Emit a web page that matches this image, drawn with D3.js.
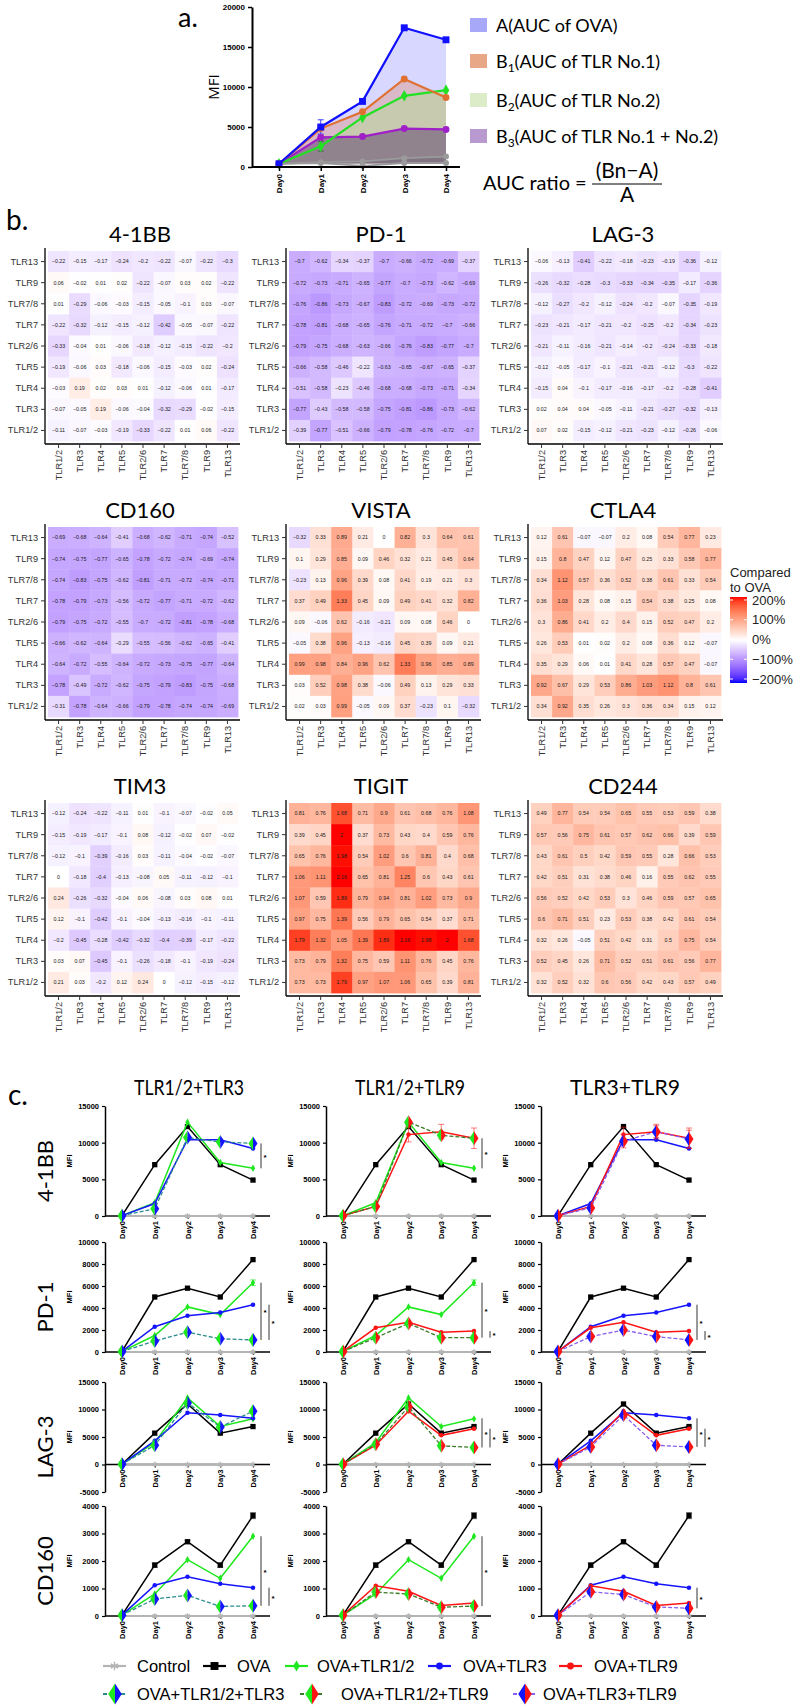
<!DOCTYPE html>
<html><head><meta charset="utf-8">
<script src="https://cdn.jsdelivr.net/npm/d3@7/dist/d3.min.js"></script>
<style>body{margin:0;background:#fff;}svg{display:block;}</style>
</head><body>
<svg id="chart" width="800" height="1705" xmlns="http://www.w3.org/2000/svg"></svg>
<script>
// ================= DATA =================
// Panel a
const aDays=["Day0","Day1","Day2","Day3","Day4"];
const aOVA=[400,5000,8200,17400,15900];
const aTLR1=[400,4800,6900,11000,8700];
const aTLR2=[400,2600,6200,8900,9600];
const aTLR12=[400,3700,3800,4800,4700];
const aCtrlA=[400,600,700,1100,1300];
const aCtrlB=[400,500,150,500,500];
const aTicks=[0,5000,10000,15000,20000];
const aLegendMain=["A","B","B","B"];
const aLegendSub=["","1","2","3"];
const aLegendRest=["(AUC of OVA)","(AUC of TLR No.1)","(AUC of TLR No.2)","(AUC of TLR No.1 + No.2)"];

// Panel b (rows listed top to bottom, columns left to right)
const hmRows=["TLR13","TLR9","TLR7/8","TLR7","TLR2/6","TLR5","TLR4","TLR3","TLR1/2"];
const hmCols=["TLR1/2","TLR3","TLR4","TLR5","TLR2/6","TLR7","TLR7/8","TLR9","TLR13"];
const hmNames=["4-1BB","PD-1","LAG-3","CD160","VISTA","CTLA4","TIM3","TIGIT","CD244"];
const hm41BB=[
[-0.22,-0.15,-0.17,-0.24,-0.2,-0.22,-0.07,-0.22,-0.3],
[0.06,-0.02,0.01,0.02,-0.22,-0.07,0.03,0.02,-0.22],
[0.01,-0.29,-0.06,-0.03,-0.15,-0.05,-0.1,0.03,-0.07],
[-0.22,-0.32,-0.12,-0.15,-0.12,-0.42,-0.05,-0.07,-0.22],
[-0.33,-0.04,0.01,-0.06,-0.18,-0.12,-0.15,-0.22,-0.2],
[-0.19,-0.06,0.03,-0.18,-0.06,-0.15,-0.03,0.02,-0.24],
[-0.03,0.19,0.02,0.03,0.01,-0.12,-0.06,0.01,-0.17],
[-0.07,-0.05,0.19,-0.06,-0.04,-0.32,-0.29,-0.02,-0.15],
[-0.11,-0.07,-0.03,-0.19,-0.33,-0.22,0.01,0.06,-0.22]];
const hmPD1=[
[-0.7,-0.62,-0.34,-0.37,-0.7,-0.66,-0.72,-0.69,-0.37],
[-0.72,-0.73,-0.71,-0.65,-0.77,-0.7,-0.73,-0.62,-0.69],
[-0.76,-0.86,-0.73,-0.67,-0.83,-0.72,-0.69,-0.73,-0.72],
[-0.78,-0.81,-0.68,-0.65,-0.76,-0.71,-0.72,-0.7,-0.66],
[-0.79,-0.75,-0.68,-0.63,-0.66,-0.76,-0.83,-0.77,-0.7],
[-0.66,-0.58,-0.46,-0.22,-0.63,-0.65,-0.67,-0.65,-0.37],
[-0.51,-0.58,-0.23,-0.46,-0.68,-0.68,-0.73,-0.71,-0.34],
[-0.77,-0.43,-0.58,-0.58,-0.75,-0.81,-0.86,-0.73,-0.62],
[-0.39,-0.77,-0.51,-0.66,-0.79,-0.78,-0.76,-0.72,-0.7]];
const hmLAG3=[
[-0.06,-0.13,-0.41,-0.22,-0.18,-0.23,-0.19,-0.36,-0.12],
[-0.26,-0.32,-0.28,-0.3,-0.33,-0.34,-0.35,-0.17,-0.36],
[-0.12,-0.27,-0.2,-0.12,-0.24,-0.2,-0.07,-0.35,-0.19],
[-0.23,-0.21,-0.17,-0.21,-0.2,-0.25,-0.2,-0.34,-0.23],
[-0.21,-0.11,-0.16,-0.21,-0.14,-0.2,-0.24,-0.33,-0.18],
[-0.12,-0.05,-0.17,-0.1,-0.21,-0.21,-0.12,-0.3,-0.22],
[-0.15,0.04,-0.1,-0.17,-0.16,-0.17,-0.2,-0.28,-0.41],
[0.02,0.04,0.04,-0.05,-0.11,-0.21,-0.27,-0.32,-0.13],
[0.07,0.02,-0.15,-0.12,-0.21,-0.23,-0.12,-0.26,-0.06]];
const hmCD160=[
[-0.69,-0.68,-0.64,-0.41,-0.68,-0.62,-0.71,-0.74,-0.52],
[-0.74,-0.75,-0.77,-0.65,-0.78,-0.72,-0.74,-0.69,-0.74],
[-0.74,-0.83,-0.75,-0.62,-0.81,-0.71,-0.72,-0.74,-0.71],
[-0.78,-0.79,-0.73,-0.56,-0.72,-0.77,-0.71,-0.72,-0.62],
[-0.79,-0.75,-0.72,-0.55,-0.7,-0.72,-0.81,-0.78,-0.68],
[-0.66,-0.62,-0.64,-0.29,-0.55,-0.56,-0.62,-0.65,-0.41],
[-0.64,-0.72,-0.55,-0.64,-0.72,-0.73,-0.75,-0.77,-0.64],
[-0.78,-0.49,-0.72,-0.62,-0.75,-0.79,-0.83,-0.75,-0.68],
[-0.31,-0.78,-0.64,-0.66,-0.79,-0.78,-0.74,-0.74,-0.69]];
const hmVISTA=[
[-0.32,0.33,0.89,0.21,0,0.82,0.3,0.64,0.61],
[0.1,0.29,0.85,0.09,0.46,0.32,0.21,0.45,0.64],
[-0.23,0.13,0.96,0.39,0.08,0.41,0.19,0.21,0.3],
[0.37,0.49,1.33,0.45,0.09,0.49,0.41,0.32,0.82],
[0.09,-0.06,0.62,-0.16,-0.21,0.09,0.08,0.46,0],
[-0.05,0.38,0.96,-0.13,-0.16,0.45,0.39,0.09,0.21],
[0.99,0.98,0.84,0.96,0.62,1.33,0.96,0.85,0.89],
[0.03,0.52,0.98,0.38,-0.06,0.49,0.13,0.29,0.33],
[0.02,0.03,0.99,-0.05,0.09,0.37,-0.23,0.1,-0.32]];
const hmCTLA4=[
[0.12,0.61,-0.07,-0.07,0.2,0.08,0.54,0.77,0.23],
[0.15,0.8,0.47,0.12,0.47,0.25,0.33,0.58,0.77],
[0.34,1.12,0.57,0.36,0.52,0.38,0.61,0.33,0.54],
[0.36,1.03,0.28,0.08,0.15,0.54,0.38,0.25,0.08],
[0.3,0.86,0.41,0.2,0.4,0.15,0.52,0.47,0.2],
[0.26,0.53,0.01,0.02,0.2,0.08,0.36,0.12,-0.07],
[0.35,0.29,0.06,0.01,0.41,0.28,0.57,0.47,-0.07],
[0.92,0.67,0.29,0.53,0.86,1.03,1.12,0.8,0.61],
[0.34,0.92,0.35,0.26,0.3,0.36,0.34,0.15,0.12]];
const hmTIM3=[
[-0.12,-0.24,-0.22,-0.11,0.01,-0.1,-0.07,-0.02,0.05],
[-0.15,-0.19,-0.17,-0.1,0.08,-0.12,-0.02,0.07,-0.02],
[-0.12,-0.1,-0.39,-0.16,0.03,-0.11,-0.04,-0.02,-0.07],
[0,-0.18,-0.4,-0.13,-0.08,0.05,-0.11,-0.12,-0.1],
[0.24,-0.26,-0.32,-0.04,0.06,-0.08,0.03,0.08,0.01],
[0.12,-0.1,-0.42,-0.1,-0.04,-0.13,-0.16,-0.1,-0.11],
[-0.2,-0.45,-0.28,-0.42,-0.32,-0.4,-0.39,-0.17,-0.22],
[0.03,0.07,-0.45,-0.1,-0.26,-0.18,-0.1,-0.19,-0.24],
[0.21,0.03,-0.2,0.12,0.24,0,-0.12,-0.15,-0.12]];
const hmTIGIT=[
[0.81,0.76,1.68,0.71,0.9,0.61,0.68,0.76,1.08],
[0.39,0.45,2,0.37,0.73,0.43,0.4,0.59,0.76],
[0.65,0.76,1.98,0.54,1.02,0.6,0.81,0.4,0.68],
[1.06,1.11,2.16,0.65,0.81,1.25,0.6,0.43,0.61],
[1.07,0.59,1.89,0.79,0.94,0.81,1.02,0.73,0.9],
[0.97,0.75,1.39,0.56,0.79,0.65,0.54,0.37,0.71],
[1.79,1.32,1.05,1.39,1.89,2.16,1.98,2,1.68],
[0.73,0.79,1.32,0.75,0.59,1.11,0.76,0.45,0.76],
[0.73,0.73,1.79,0.97,1.07,1.06,0.65,0.39,0.81]];
const hmCD244=[
[0.49,0.77,0.54,0.54,0.65,0.55,0.53,0.59,0.38],
[0.57,0.56,0.75,0.61,0.57,0.62,0.66,0.39,0.59],
[0.43,0.61,0.5,0.42,0.59,0.55,0.28,0.66,0.53],
[0.42,0.51,0.31,0.38,0.46,0.16,0.55,0.62,0.55],
[0.56,0.52,0.42,0.53,0.3,0.46,0.59,0.57,0.65],
[0.6,0.71,0.51,0.23,0.53,0.38,0.42,0.61,0.54],
[0.32,0.26,-0.05,0.51,0.42,0.31,0.5,0.75,0.54],
[0.52,0.45,0.26,0.71,0.52,0.51,0.61,0.56,0.77],
[0.32,0.52,0.32,0.6,0.56,0.42,0.43,0.57,0.49]];
const cbTicks=[2,1,0,-1,-2];
const cbLabels=["200%","100%","0%","\u2212100%","\u2212200%"];

// Panel c
const cCols=["TLR1/2+TLR3","TLR1/2+TLR9","TLR3+TLR9"];
const cRows=["4-1BB","PD-1","LAG-3","CD160"];
const kCtrl=[0,0,0,0,0];
const k41BB_OVA=[50,7000,12200,7000,4900];
const k41BB_T12=[50,1800,12800,7300,6500];
const k41BB_T3=[50,1700,10400,10400,9200];
const k41BB_T9=[50,1300,11100,11500,10600];
const k41BB_C123=[50,1000,10700,10100,9900];
const k41BB_C129=[50,1300,12800,11000,10600];
const k41BB_C39=[50,1100,10200,11500,10500];
const kPD1_OVA=[50,5000,5800,5000,8400];
const kPD1_T12=[50,1500,4100,3400,6300];
const kPD1_T3=[50,2300,3300,3600,4300];
const kPD1_T9=[50,2200,2700,1800,1900];
const kPD1_C123=[50,1000,1800,1200,1100];
const kPD1_C129=[50,1300,2600,1300,1300];
const kPD1_C39=[50,1400,2000,1400,1100];
const kLAG3_OVA=[50,5700,11000,5700,6900];
const kLAG3_T12=[50,4000,12100,6900,8300];
const kLAG3_T3=[50,4300,9400,9000,8400];
const kLAG3_T9=[50,3500,9700,5300,6500];
const kLAG3_C123=[50,3500,11200,6800,9700];
const kLAG3_C129=[50,3700,10500,3400,3100];
const kLAG3_C39=[50,3200,9000,3500,3200];
const kCD160_OVA=[30,1850,2700,1850,3650];
const kCD160_T12=[30,800,2050,1370,2900];
const kCD160_T3=[30,1120,1430,1170,1030];
const kCD160_T9=[30,1100,900,380,470];
const kCD160_C123=[30,620,750,350,370];
const kCD160_C129=[30,870,800,320,360];
const kCD160_C39=[30,880,780,330,280];
const e41BB_T9=[0,200,1000,1000,1400];
const e41BB_C39=[0,0,900,800,1200];
const ePD1_T12=[0,0,0,0,250];
const eCD160_OVA=[0,80,60,80,110];
const sig41BB=[[[9900,6500]],[[10600,6500]],[]];
const sigPD1=[[[6300,1100],[4300,1100]],[[6300,1300],[1900,1300]],[[4300,1100],[1900,1100]]];
const sigLAG3=[[],[[8400,3100],[6500,3100]],[[8400,3200],[6500,3200]]];
const sigCD160=[[[2900,370],[1030,370]],[[2900,360]],[[1030,280]]];
const cDomains=[[0,15000],[0,10000],[-5000,15000],[0,4000]];
const cTicks=[[0,5000,10000,15000],[0,2000,4000,6000,8000,10000],[-5000,0,5000,10000,15000],[0,1000,2000,3000,4000]];
const legNames1=["Control","OVA","OVA+TLR1/2","OVA+TLR3","OVA+TLR9"];
const legNames2=["OVA+TLR1/2+TLR3","OVA+TLR1/2+TLR9","OVA+TLR3+TLR9"];

// ================= DRAW =================
const svg=d3.select("#chart");
const FS="Lato, 'Open Sans', sans-serif";
const FA="'Liberation Sans', Arial, sans-serif";
svg.append("rect").attr("width",800).attr("height",1705).attr("fill","#fff");

// ---------- Panel a ----------
(function(){
  const g=svg.append("g");
  g.append("text").attr("x",178).attr("y",27).attr("font-family",FS).attr("font-size",27).text("a.");
  const x=d3.scalePoint().domain(aDays).range([279,446]);
  const y=d3.scaleLinear().domain([0,20000]).range([167,7]);
  const area=arr=>d3.area().x((d,i)=>x(aDays[i])).y0(y(450)).y1(d=>y(d))(arr);
  const line=arr=>d3.line().x((d,i)=>x(aDays[i])).y(d=>y(d))(arr);
  g.append("path").attr("d",area(aOVA)).attr("fill","#a0a0ff").attr("fill-opacity",0.42);
  g.append("path").attr("d",area(aTLR1)).attr("fill","#e08060").attr("fill-opacity",0.35);
  g.append("path").attr("d",area(aTLR2)).attr("fill","#b4dc96").attr("fill-opacity",0.5);
  g.append("path").attr("d",area(aTLR12)).attr("fill","#5a3c6e").attr("fill-opacity",0.5);
  g.append("path").attr("d",area(aCtrlA)).attr("fill","#6a5a70").attr("fill-opacity",0.35);
  [aCtrlA,aCtrlB].forEach(a=>{
    g.append("path").attr("d",line(a)).attr("fill","none").attr("stroke","#9a9a9a").attr("stroke-width",1.8);
    a.forEach((v,i)=>g.append("circle").attr("cx",x(aDays[i])).attr("cy",y(v)).attr("r",3).attr("fill","#9a9a9a"));
  });
  const eb=(xv,lo,hi,c)=>{g.append("line").attr("x1",xv).attr("x2",xv).attr("y1",y(lo)).attr("y2",y(hi)).attr("stroke",c).attr("stroke-width",1);
    [lo,hi].forEach(v=>g.append("line").attr("x1",xv-3).attr("x2",xv+3).attr("y1",y(v)).attr("y2",y(v)).attr("stroke",c).attr("stroke-width",1));};
  eb(x("Day1"),4100,5900,"#3a3aff");
  eb(x("Day1"),2000,3200,"#3a6a3a");
  const series=[[aTLR12,"#a020c8","circle"],[aTLR2,"#22e022","diamond"],[aTLR1,"#e07030","circle"],[aOVA,"#1010ff","square"]];
  series.forEach(([a,c,m])=>{
    g.append("path").attr("d",line(a)).attr("fill","none").attr("stroke",c).attr("stroke-width",2.2);
    a.forEach((v,i)=>{
      const sym=m==="square"?d3.symbolSquare:(m==="diamond"?d3.symbolDiamond:d3.symbolCircle);
      g.append("path").attr("d",d3.symbol(sym,m==="square"?48:38)()).attr("transform",`translate(${x(aDays[i])},${y(v)})`).attr("fill",c);
    });
  });
  const ya=g.append("g").attr("transform","translate(252,0)").call(d3.axisLeft(y).tickValues(aTicks).tickSize(4).tickSizeOuter(0).tickFormat(d=>String(d)));
  const xa=g.append("g").attr("transform","translate(0,167)").call(d3.axisBottom(x).tickSize(4).tickSizeOuter(0));
  xa.select(".domain").attr("d","M252,0H460");
  [ya,xa].forEach(a=>{a.select(".domain").attr("stroke","#000").attr("stroke-width",2);a.selectAll(".tick line").attr("stroke","#000").attr("stroke-width",1.5);
    a.selectAll("text").attr("font-family",FA).attr("font-weight","bold").attr("font-size",8).attr("fill","#000");});
  xa.selectAll("text").attr("transform","rotate(-90)").attr("x",-7).attr("y",0).attr("dy","0.35em").attr("text-anchor","end");
  g.append("text").attr("transform","translate(219,87) rotate(-90)").attr("text-anchor","middle").attr("font-family","'Open Sans', sans-serif").attr("font-size",15).text("MFI");
  const legCol=["#a8a8f8","#e8a888","#dcecc8","#b89ad0"];
  const legY=[25,61,100,136];
  legY.forEach((cy,i)=>{
    g.append("rect").attr("x",470).attr("y",cy-7).attr("width",17).attr("height",14).attr("fill",legCol[i]);
    const t=g.append("text").attr("x",496).attr("y",cy+7).attr("font-family",FS).attr("font-size",18);
    t.append("tspan").text(aLegendMain[i]);
    if(aLegendSub[i]) t.append("tspan").attr("font-size",12).attr("dy",4).text(aLegendSub[i]);
    t.append("tspan").attr("dy",aLegendSub[i]?-4:0).text(aLegendRest[i]);
  });
  g.append("text").attr("x",483).attr("y",190).attr("font-family",FS).attr("font-size",20).text("AUC ratio =");
  g.append("text").attr("x",627).attr("y",178).attr("text-anchor","middle").attr("font-family",FS).attr("font-size",21).text("(Bn\u2212A)");
  g.append("line").attr("x1",592).attr("x2",662).attr("y1",184).attr("y2",184).attr("stroke","#000").attr("stroke-width",1.2);
  g.append("text").attr("x",627).attr("y",202).attr("text-anchor","middle").attr("font-family",FS).attr("font-size",21).text("A");
})();

// ---------- Panel b ----------
const hmData=[hm41BB,hmPD1,hmLAG3,hmCD160,hmVISTA,hmCTLA4,hmTIM3,hmTIGIT,hmCD244];
const hmColor=d3.scaleLinear().domain([-2,0,2]).range(["#0000ff","#ffffff","#ff0000"]).interpolate(d3.interpolateLab).clamp(true);
const hmX=[48,289,531], hmY=[251,527,803], hmSize=190;
const fmt=v=>String(v).replace("-","\u2212");
svg.append("text").attr("x",6).attr("y",230).attr("font-family",FS).attr("font-size",28).text("b.");
hmNames.forEach((name,k)=>{
  const col=k%3,row=Math.floor(k/3);
  const x0=hmX[col],y0=hmY[row];
  const xb=d3.scaleBand().domain(hmCols).range([x0,x0+hmSize]);
  const yb=d3.scaleBand().domain(hmRows).range([y0,y0+hmSize]);
  const data=hmData[k];
  const g=svg.append("g");
  g.append("text").attr("x",x0+hmSize/2-3).attr("y",y0-9).attr("text-anchor","middle").attr("font-family",FS).attr("font-size",22).text(name);
  hmRows.forEach((r,i)=>hmCols.forEach((c,j)=>{
    const v=data[i][j];
    g.append("rect").attr("x",xb(c)).attr("y",yb(r)).attr("width",xb.bandwidth()+0.4).attr("height",yb.bandwidth()+0.4).attr("fill",hmColor(v));
  }));
  hmRows.forEach((r,i)=>hmCols.forEach((c,j)=>{
    const v=data[i][j];
    g.append("text").attr("x",xb(c)+xb.bandwidth()/2).attr("y",yb(r)+yb.bandwidth()/2).attr("dy","0.35em")
      .attr("text-anchor","middle").attr("font-family",FA).attr("font-size",5.3).attr("fill","#1a1a1a").text(fmt(v));
  }));
  const ay=g.append("g").attr("transform",`translate(${x0-3},0)`).call(d3.axisLeft(yb).tickSize(4).tickSizeOuter(0));
  const ax=g.append("g").attr("transform",`translate(0,${y0+hmSize+3})`).call(d3.axisBottom(xb).tickSize(4).tickSizeOuter(0));
  ay.select(".domain").attr("d",`M0,${y0-3}V${y0+hmSize+3}`);
  ax.select(".domain").attr("d",`M${x0-3},0H${x0+hmSize+2}`);
  [ay,ax].forEach(a=>{a.select(".domain").attr("stroke","#000").attr("stroke-width",1.3);
    a.selectAll(".tick line").attr("stroke","#333").attr("stroke-width",1);
    a.selectAll("text").attr("font-family",FA).attr("font-size",9.2).attr("fill","#333");});
  ax.selectAll("text").attr("transform","rotate(-90)").attr("x",-6).attr("y",0).attr("dy","0.35em").attr("text-anchor","end");
});
(function(){
  const g=svg.append("g");
  const defs=svg.append("defs");
  const gr=defs.append("linearGradient").attr("id","cbg").attr("x1",0).attr("y1",0).attr("x2",0).attr("y2",1);
  d3.range(0,1.0001,0.05).forEach(t=>gr.append("stop").attr("offset",t).attr("stop-color",hmColor(2-4*t)));
  const top=597,bot=683, bx=730;
  g.append("rect").attr("x",bx).attr("y",top).attr("width",17).attr("height",bot-top).attr("fill","url(#cbg)");
  const s=d3.scaleLinear().domain([2,-2]).range([top+3,bot-4]);
  cbTicks.forEach((v,i)=>{
    g.append("line").attr("x1",bx).attr("x2",bx+3).attr("y1",s(v)).attr("y2",s(v)).attr("stroke","#fff");
    g.append("line").attr("x1",bx+14).attr("x2",bx+17).attr("y1",s(v)).attr("y2",s(v)).attr("stroke","#fff");
    g.append("text").attr("x",bx+22).attr("y",s(v)).attr("dy","0.35em").attr("font-family",FA).attr("font-size",13).attr("fill","#222").text(cbLabels[i]);
  });
  g.append("text").attr("x",bx).attr("y",577).attr("font-family",FA).attr("font-size",13).attr("fill","#222").text("Compared");
  g.append("text").attr("x",bx).attr("y",592).attr("font-family",FA).attr("font-size",13).attr("fill","#222").text("to OVA");
})();

// ---------- Panel c ----------
const cColX=[105,326,541], cRowTop=[1106,1242,1382,1506], cH=110, cW=165;
const rowSeries=[
 {ctrl:kCtrl,ova:k41BB_OVA,t12:k41BB_T12,t3:k41BB_T3,t9:k41BB_T9,c123:k41BB_C123,c129:k41BB_C129,c39:k41BB_C39},
 {ctrl:kCtrl,ova:kPD1_OVA,t12:kPD1_T12,t3:kPD1_T3,t9:kPD1_T9,c123:kPD1_C123,c129:kPD1_C129,c39:kPD1_C39},
 {ctrl:kCtrl,ova:kLAG3_OVA,t12:kLAG3_T12,t3:kLAG3_T3,t9:kLAG3_T9,c123:kLAG3_C123,c129:kLAG3_C129,c39:kLAG3_C39},
 {ctrl:kCtrl,ova:kCD160_OVA,t12:kCD160_T12,t3:kCD160_T3,t9:kCD160_T9,c123:kCD160_C123,c129:kCD160_C129,c39:kCD160_C39}];
const rowErr=[{t9:e41BB_T9,c39:e41BB_C39},{t12:ePD1_T12},{},{ova:eCD160_OVA}];
const rowSig=[sig41BB,sigPD1,sigLAG3,sigCD160];
const colKeys=[["ctrl","ova","t12","t3","c123"],["ctrl","ova","t12","t9","c129"],["ctrl","ova","t3","t9","c39"]];
const GREEN="#1ee81e",BLUE="#1414ff",RED="#ff1414";
const sty={
  ctrl:{c:"#b4b4b4",w:2.2,m:"ast"},
  ova:{c:"#000",w:1.5,m:"sq"},
  t12:{c:GREEN,w:1.5,m:"dia"},
  t3:{c:BLUE,w:1.5,m:"circ"},
  t9:{c:RED,w:1.5,m:"circ"},
  c123:{c:"#2a8c8c",w:1.3,dash:"4,2",split:[GREEN,BLUE]},
  c129:{c:"#3a7a28",w:1.3,dash:"4,2",split:[GREEN,RED]},
  c39:{c:"#8a5cf0",w:1.3,dash:"4,2",split:[BLUE,RED]}};
function marker(g,key,cx,cy,scale){
  const s=sty[key]; scale=scale||1;
  if(s.split){
    const w=4.5*scale,h=7*scale;
    g.append("path").attr("d",`M${cx},${cy-h}L${cx-w},${cy}L${cx},${cy+h}Z`).attr("fill",s.split[0]);
    g.append("path").attr("d",`M${cx},${cy-h}L${cx+w},${cy}L${cx},${cy+h}Z`).attr("fill",s.split[1]);
  } else if(s.m==="sq"){
    g.append("path").attr("d",d3.symbol(d3.symbolSquare,28*scale*scale)()).attr("transform",`translate(${cx},${cy})`).attr("fill",s.c);
  } else if(s.m==="dia"){
    g.append("path").attr("d",d3.symbol(d3.symbolDiamond,16*scale*scale)()).attr("transform",`translate(${cx},${cy})`).attr("fill",s.c);
  } else if(s.m==="circ"){
    g.append("path").attr("d",d3.symbol(d3.symbolCircle,16*scale*scale)()).attr("transform",`translate(${cx},${cy})`).attr("fill",s.c);
  } else {
    g.append("path").attr("d",d3.symbol(d3.symbolAsterisk,22*scale*scale)()).attr("transform",`translate(${cx},${cy})`).attr("fill","none").attr("stroke",s.c).attr("stroke-width",1.4);
  }
}
svg.append("text").attr("x",8).attr("y",1105).attr("font-family",FS).attr("font-size",28).text("c.");
cCols.forEach((t,ci)=>svg.append("text").attr("x",cColX[ci]+84).attr("y",1095).attr("text-anchor","middle").attr("font-family",FS).attr("font-size",21).attr("textLength",110).attr("lengthAdjust","spacingAndGlyphs").text(t));
cRows.forEach((rn,ri)=>{
  svg.append("text").attr("transform",`translate(${53},${cRowTop[ri]+cH/2+10}) rotate(-90)`).attr("text-anchor","middle").attr("font-family",FS).attr("font-size",22).text(rn);
  cCols.forEach((cn,ci)=>{
    const ax0=cColX[ci], top=cRowTop[ri];
    const g=svg.append("g");
    const x=d3.scalePoint().domain(aDays).range([ax0+17,ax0+148]);
    const y=d3.scaleLinear().domain(cDomains[ri]).range([top+cH,top]);
    const line=arr=>d3.line().x((d,i)=>x(aDays[i])).y(d=>y(d))(arr);
    const ya=g.append("g").attr("transform",`translate(${ax0},0)`).call(d3.axisLeft(y).tickValues(cTicks[ri]).tickSize(3).tickSizeOuter(0).tickFormat(d=>String(d)));
    const xa=g.append("g").attr("transform",`translate(0,${y(0)})`).call(d3.axisBottom(x).tickSize(3).tickSizeOuter(0));
    xa.select(".domain").attr("d",`M${ax0},0H${ax0+cW}`);
    [ya,xa].forEach(a=>{a.select(".domain").attr("stroke","#000").attr("stroke-width",1.5);
      a.selectAll(".tick line").attr("stroke","#000").attr("stroke-width",1.2);
      a.selectAll("text").attr("font-family",FA).attr("font-weight","bold").attr("font-size",7.5).attr("fill","#000");});
    xa.selectAll("text").attr("transform","rotate(-90)").attr("x",-5).attr("y",0).attr("dy","0.35em").attr("text-anchor","end");
    g.append("text").attr("transform",`translate(${ax0-33},${top+cH/2}) rotate(-90)`).attr("text-anchor","middle").attr("font-family",FA).attr("font-weight","bold").attr("font-size",7.5).text("MFI");
    const ser=rowSeries[ri], err=rowErr[ri];
    colKeys[ci].forEach(key=>{
      const s=sty[key], arr=ser[key];
      const p=g.append("path").attr("d",line(arr)).attr("fill","none").attr("stroke",s.c).attr("stroke-width",s.w);
      if(s.dash) p.attr("stroke-dasharray",s.dash);
      if(err[key]) err[key].forEach((e,i)=>{ if(!e) return;
        const cx=x(aDays[i]),col=s.split?s.split[1]:s.c;
        g.append("line").attr("x1",cx).attr("x2",cx).attr("y1",y(arr[i]-e)).attr("y2",y(arr[i]+e)).attr("stroke",col).attr("stroke-width",0.8).attr("opacity",0.7);
        [arr[i]-e,arr[i]+e].forEach(v=>g.append("line").attr("x1",cx-3).attr("x2",cx+3).attr("y1",y(v)).attr("y2",y(v)).attr("stroke",col).attr("stroke-width",0.8).attr("opacity",0.7));
      });
      arr.forEach((v,i)=>marker(g,key,x(aDays[i]),y(v),1));
    });
    rowSig[ri][ci].forEach((sb,k)=>{
      const bx=x("Day4")+8+k*8;
      g.append("line").attr("x1",bx).attr("x2",bx).attr("y1",y(sb[0])).attr("y2",y(sb[1])).attr("stroke","#000").attr("stroke-width",0.8);
      g.append("text").attr("x",bx+2.5).attr("y",(y(sb[0])+y(sb[1]))/2+4).attr("font-family",FA).attr("font-size",8).attr("font-weight","bold").text("*");
    });
  });
});
(function(){
  const g=svg.append("g");
  const k1=["ctrl","ova","t12","t3","t9"], sx1=[103,203,285,428,559], tx1=[137,237,317,463,594];
  k1.forEach((k,i)=>{
    const s=sty[k], yy=1666;
    g.append("line").attr("x1",sx1[i]).attr("x2",sx1[i]+23).attr("y1",yy).attr("y2",yy).attr("stroke",s.c).attr("stroke-width",2.2);
    marker(g,k,sx1[i]+11.5,yy,1.5);
    g.append("text").attr("x",tx1[i]).attr("y",yy).attr("dy","0.36em").attr("font-family",FA).attr("font-size",16.5).text(legNames1[i]);
  });
  const k2=["c123","c129","c39"], sx2=[103,300,513], tx2=[137,341,543];
  k2.forEach((k,i)=>{
    const s=sty[k], yy=1694;
    g.append("line").attr("x1",sx2[i]).attr("x2",sx2[i]+24).attr("y1",yy).attr("y2",yy).attr("stroke",s.c).attr("stroke-width",2).attr("stroke-dasharray","4,2");
    marker(g,k,sx2[i]+12,yy,1.5);
    g.append("text").attr("x",tx2[i]).attr("y",yy).attr("dy","0.36em").attr("font-family",FA).attr("font-size",16.5).text(legNames2[i]);
  });
})();
</script>
</body></html>
